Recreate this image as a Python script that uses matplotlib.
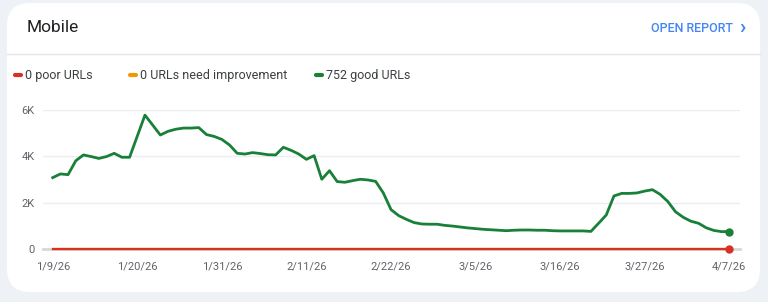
import pandas as pd
import numpy as np
import matplotlib
matplotlib.use('Agg')
import matplotlib.pyplot as plt
import matplotlib.dates as mdates
from matplotlib.patches import FancyBboxPatch

plt.rcParams['font.family'] = ['Roboto', 'DejaVu Sans']

# daily counts, 1/9/26 .. 4/7/26
good = [3080, 3240, 3210, 3810, 4060, 3990, 3910, 3990, 4130, 3960,
        3960, 4870, 5780, 5350, 4920, 5080, 5170, 5220, 5220, 5240,
        4940, 4860, 4730, 4490, 4130, 4100, 4160, 4120, 4070, 4060,
        4390, 4260, 4100, 3870, 4030, 3010, 3380, 2910, 2880, 2950,
        3010, 2980, 2920, 2420, 1700, 1440, 1280, 1140, 1080, 1070,
        1070, 1020, 990, 950, 910, 880, 850, 830, 810, 790,
        810, 820, 820, 810, 810, 790, 780, 780, 780, 780,
        760, 1110, 1470, 2290, 2400, 2400, 2420, 2500, 2560, 2360,
        2050, 1610, 1370, 1200, 1110, 915, 800, 750, 752]
poor = [0] * len(good)
need_improvement = [0] * len(good)
dates = pd.date_range('2026-01-09', periods=len(good), freq='D')
tick_dates = pd.date_range('2026-01-09', '2026-04-07', freq='11D')
yticks = [0, 2000, 4000, 6000]
ytick_labels = ['0', '2K', '4K', '6K']

GREEN = '#188038'
RED = '#d93025'
ORANGE = '#f29900'
GRAY_TXT = '#5f6368'

W, H = 768, 302
fig = plt.figure(figsize=(W / 100, H / 100), dpi=100, facecolor='#eef1f6')

# white card
card = FancyBboxPatch((7 / W, 10 / H), (760 - 7) / W, (299 - 10) / H,
                      boxstyle='round,pad=0,rounding_size=0.03',
                      transform=fig.transFigure, facecolor='white',
                      edgecolor='none', mutation_aspect=W / H, zorder=-10)
fig.patches.append(card)
# separator under header
fig.add_artist(plt.Line2D([7 / W, 760 / W], [1 - 54 / H, 1 - 54 / H],
                          color='#e3e5e8', lw=1, transform=fig.transFigure))

fig.text(27 / W, 1 - 27 / H, 'Mobile', fontsize=12.5, color='#202124',
         va='center', ha='left')
fig.text(733 / W, 1 - 28 / H, 'OPEN REPORT', fontsize=9, color='#4285f4',
         va='center', ha='right', fontweight='medium')
fig.text(739 / W, 1 - 28 / H, '\u203a', fontsize=15, color='#4285f4',
         va='center', ha='left', fontweight='bold')

# legend
legend_items = [(15, RED, '0 poor URLs'),
                (130, ORANGE, '0 URLs need improvement'),
                (316, GREEN, '752 good URLs')]
for x0, c, label in legend_items:
    fig.add_artist(plt.Line2D([x0 / W, (x0 + 6) / W], [1 - 75 / H] * 2,
                              color=c, lw=3, solid_capstyle='round',
                              transform=fig.transFigure))
    fig.text((x0 + 10) / W, 1 - 75 / H, label, fontsize=9, color='#3c4043',
             va='center', ha='left')

# plot area
ax = fig.add_axes([43 / W, (H - 249) / H, (740 - 43) / W, (249 - 110) / H])
ax.set_facecolor('none')
px_day = (729.3 - 52.7) / 88
x_left = dates[0] - pd.Timedelta(days=(52.7 - 43) / px_day)
x_right = dates[-1] + pd.Timedelta(days=(740 - 729.3) / px_day)
ax.set_xlim(x_left, x_right)
ax.set_ylim(0, 6000)

for yv in yticks[1:]:
    ax.axhline(yv, color='#ebedf0', lw=1, zorder=0)
ax.axhline(0, color='#d5d7da', lw=2, zorder=1, clip_on=False)

ax.plot(dates, need_improvement, color=ORANGE, lw=1.6, zorder=2, clip_on=False)
ax.plot(dates, poor, color=RED, lw=1.6, zorder=3, clip_on=False)
ax.plot(dates, good, color=GREEN, lw=2, zorder=4, clip_on=False,
        solid_joinstyle='round')
ax.plot(dates[-1], good[-1], 'o', color=GREEN, ms=5, zorder=5, clip_on=False)
ax.plot(dates[-1], poor[-1], 'o', color=RED, ms=5, zorder=5, clip_on=False)

ax.set_yticks(yticks)
ax.set_yticklabels(ytick_labels)
ax.set_xticks(tick_dates)
ax.set_xticklabels([f'{d.month}/{d.day}/26' for d in tick_dates])
ax.tick_params(axis='both', length=0, labelsize=8, labelcolor=GRAY_TXT)
ax.tick_params(axis='y', pad=6)
ax.tick_params(axis='x', pad=9)
for s in ax.spines.values():
    s.set_visible(False)

fig.savefig('out.png', dpi=100, facecolor=fig.get_facecolor())
